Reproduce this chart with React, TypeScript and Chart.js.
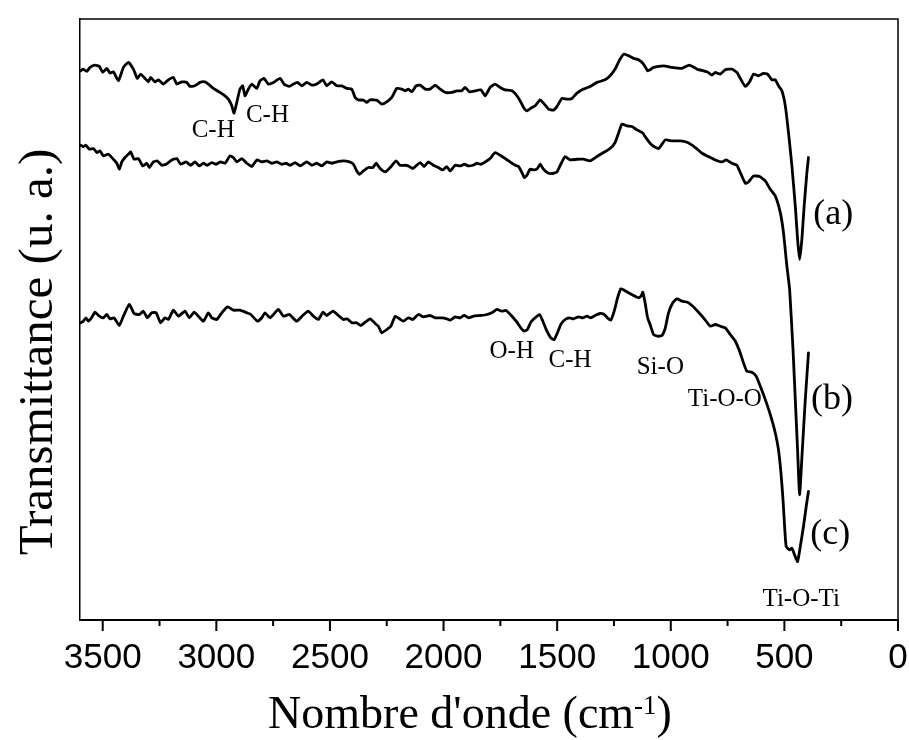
import React, { useEffect, useRef } from "react";
import { Chart, registerables } from "chart.js";

Chart.register(...registerables);

// Wavenumbers (cm-1) and transmittance (arbitrary units) for the three spectra
const waveA = [
  3597, 3587, 3570, 3556, 3534, 3515, 3500, 3482, 3468, 3453,
  3431, 3409, 3387, 3365, 3348, 3333, 3314, 3299, 3289, 3270,
  3255, 3233, 3211, 3189, 3174, 3152, 3130, 3116, 3094, 3072,
  3050, 3035, 3013, 2984, 2962, 2947, 2932, 2922, 2910, 2896,
  2884, 2874, 2859, 2844, 2822, 2808, 2790, 2771, 2749, 2719,
  2702, 2679, 2661, 2643, 2624, 2602, 2580, 2558, 2531, 2514,
  2492, 2470, 2448, 2426, 2404, 2389, 2375, 2353, 2338, 2323,
  2294, 2272, 2250, 2228, 2206, 2184, 2169, 2155, 2140, 2121,
  2103, 2081, 2059, 2037, 2015, 1993, 1964, 1942, 1920, 1905,
  1886, 1861, 1836, 1817, 1795, 1773, 1751, 1729, 1699, 1677,
  1663, 1648, 1633, 1611, 1597, 1575, 1560, 1538, 1516, 1499,
  1479, 1457, 1435, 1413, 1384, 1355, 1325, 1289, 1267, 1245,
  1223, 1205, 1186, 1164, 1142, 1120, 1102, 1091, 1076, 1032,
  995, 951, 918, 885, 841, 819, 804, 782, 760, 731,
  709, 694, 672, 653, 636, 614, 592, 574, 555, 540,
  526, 511, 496, 482, 467, 452, 442, 433, 423, 413,
  401, 394,
];
const transA = [
  54.83, 55.0, 54.77, 55.17, 55.4, 55.27, 54.67, 55.07, 54.6, 54.73,
  53.83, 55.17, 55.67, 55.0, 54.07, 54.5, 54.07, 53.73, 54.17, 53.73,
  53.93, 53.5, 53.93, 54.17, 53.5, 53.73, 53.67, 53.27, 53.33, 53.67,
  53.73, 53.5, 53.07, 52.67, 52.33, 52.0, 51.33, 50.6, 51.67, 53.0,
  53.33, 52.33, 53.0, 53.5, 53.07, 53.83, 54.07, 53.5, 53.67, 54.07,
  53.5, 53.27, 53.5, 53.67, 53.33, 53.67, 53.4, 53.5, 53.93, 53.33,
  53.73, 53.33, 53.33, 53.07, 53.0, 52.17, 51.93, 51.9, 51.67, 51.93,
  51.9, 51.5, 51.73, 52.17, 53.07, 53.0, 52.83, 53.0, 52.73, 53.33,
  53.4, 53.0, 53.0, 53.4, 53.0, 52.67, 52.67, 52.83, 52.83, 53.17,
  52.73, 52.83, 52.93, 52.33, 53.17, 53.5, 53.17, 52.93, 52.83, 52.33,
  51.83, 51.17, 50.83, 51.17, 51.33, 51.93, 51.6, 51.0, 50.9, 51.33,
  52.07, 52.0, 52.07, 52.6, 53.0, 53.27, 53.67, 53.93, 54.33, 55.0,
  56.0, 56.5, 56.33, 56.07, 55.93, 55.5, 54.83, 54.93, 55.17, 55.33,
  55.17, 55.07, 55.4, 55.0, 54.73, 54.4, 54.67, 54.5, 54.93, 55.0,
  54.67, 54.07, 53.27, 53.73, 54.5, 54.33, 54.57, 54.5, 53.93, 53.93,
  53.33, 52.83, 51.33, 48.67, 45.33, 41.33, 38.0, 36.0, 38.0, 41.33,
  44.67, 46.17,
];

const waveB = [
  3597, 3585, 3574, 3559, 3541, 3526, 3512, 3497, 3475, 3453,
  3438, 3427, 3416, 3402, 3387, 3377, 3362, 3343, 3324, 3306,
  3295, 3277, 3260, 3240, 3221, 3196, 3174, 3157, 3133, 3113,
  3094, 3075, 3057, 3040, 3020, 3001, 2981, 2962, 2940, 2925,
  2910, 2888, 2866, 2844, 2822, 2800, 2778, 2756, 2734, 2712,
  2693, 2675, 2653, 2631, 2602, 2580, 2558, 2536, 2514, 2492,
  2470, 2441, 2414, 2397, 2382, 2370, 2353, 2331, 2311, 2297,
  2279, 2257, 2235, 2209, 2191, 2169, 2155, 2135, 2118, 2103,
  2086, 2067, 2045, 2023, 2003, 1986, 1971, 1949, 1927, 1909,
  1890, 1871, 1853, 1836, 1817, 1795, 1773, 1751, 1729, 1707,
  1685, 1670, 1655, 1645, 1633, 1619, 1601, 1587, 1575, 1560,
  1538, 1516, 1501, 1484, 1465, 1443, 1413, 1384, 1355, 1325,
  1296, 1267, 1245, 1230, 1215, 1193, 1171, 1149, 1123, 1105,
  1083, 1054, 1024, 995, 958, 926, 892, 863, 834, 804,
  775, 756, 731, 709, 694, 672, 658, 636, 609, 584,
  562, 540, 518, 504, 489, 477, 462, 452, 442, 433,
  421, 408, 394,
];
const transB = [
  47.4, 47.27, 47.4, 47.0, 47.07, 46.67, 46.83, 46.33, 46.5, 46.0,
  45.6, 45.0, 45.73, 46.17, 46.5, 46.73, 46.0, 46.07, 45.33, 45.6,
  45.17, 45.73, 45.83, 45.4, 45.5, 45.93, 46.07, 45.5, 45.73, 45.4,
  45.73, 45.33, 45.6, 45.4, 45.67, 45.5, 45.73, 45.6, 46.33, 46.17,
  45.73, 46.07, 45.6, 45.27, 45.93, 45.73, 45.83, 45.6, 45.73, 45.5,
  45.6, 45.4, 45.67, 45.33, 45.73, 45.4, 45.6, 45.33, 45.73, 45.6,
  45.73, 45.83, 45.73, 45.5, 44.83, 44.5, 44.83, 45.17, 45.17, 45.6,
  45.07, 44.73, 45.17, 45.83, 45.4, 45.4, 45.33, 45.07, 45.4, 45.67,
  45.27, 45.73, 45.4, 45.17, 44.93, 45.27, 44.83, 45.4, 45.33, 45.5,
  45.33, 45.4, 45.6, 45.5, 45.73, 46.07, 46.67, 46.4, 46.07, 45.73,
  45.4, 45.27, 44.67, 44.17, 44.4, 45.0, 44.93, 45.07, 45.5, 45.0,
  44.6, 44.6, 44.73, 45.5, 46.27, 45.93, 46.0, 46.0, 45.83, 46.27,
  46.67, 47.07, 47.67, 48.6, 49.5, 49.33, 49.27, 48.93, 48.6, 48.0,
  47.4, 47.07, 47.93, 47.83, 47.83, 47.67, 47.17, 46.6, 46.27, 45.93,
  45.73, 45.93, 45.6, 45.4, 44.67, 43.6, 43.73, 44.33, 44.27, 43.83,
  43.0, 42.33, 40.67, 38.67, 35.33, 33.0, 27.0, 22.0, 17.0, 12.5,
  17.0, 22.0, 26.67,
];

const waveC = [
  3597, 3585, 3574, 3563, 3549, 3534, 3515, 3497, 3482, 3468,
  3450, 3427, 3409, 3383, 3362, 3339, 3321, 3304, 3284, 3265,
  3245, 3226, 3211, 3189, 3167, 3138, 3119, 3098, 3079, 3057,
  3035, 3020, 2998, 2976, 2951, 2925, 2896, 2866, 2848, 2819,
  2800, 2786, 2763, 2727, 2705, 2679, 2646, 2620, 2595, 2573,
  2551, 2531, 2514, 2487, 2463, 2441, 2424, 2404, 2382, 2364,
  2345, 2323, 2301, 2287, 2272, 2250, 2232, 2213, 2194, 2177,
  2155, 2135, 2111, 2089, 2059, 2037, 2008, 1986, 1971, 1949,
  1927, 1909, 1890, 1868, 1839, 1809, 1783, 1765, 1743, 1725,
  1699, 1677, 1660, 1645, 1631, 1616, 1597, 1578, 1563, 1545,
  1528, 1513, 1499, 1484, 1465, 1446, 1428, 1406, 1387, 1369,
  1352, 1333, 1311, 1293, 1279, 1264, 1249, 1234, 1220, 1205,
  1186, 1164, 1142, 1131, 1123, 1113, 1102, 1091, 1076, 1058,
  1039, 1024, 1010, 991, 973, 951, 926, 903, 882, 856,
  826, 804, 782, 760, 738, 716, 697, 680, 665, 643,
  624, 606, 584, 562, 540, 526, 515, 506, 499, 492,
  477, 467, 455, 442, 430, 416, 404, 394,
];
const transC = [
  29.67, 29.83, 30.17, 29.83, 30.17, 30.73, 30.33, 30.17, 30.5, 30.07,
  30.17, 29.4, 30.33, 31.5, 30.6, 30.5, 30.83, 30.17, 30.67, 30.67,
  29.67, 30.17, 30.0, 30.93, 30.33, 30.83, 30.17, 30.73, 30.33, 29.83,
  30.67, 30.17, 30.0, 30.67, 31.27, 30.93, 30.93, 30.67, 30.5, 29.83,
  30.17, 30.67, 30.17, 31.0, 30.33, 30.5, 29.83, 30.4, 30.83, 30.33,
  30.0, 30.73, 30.4, 30.83, 30.4, 30.0, 30.07, 29.67, 29.67, 29.4,
  29.73, 30.07, 29.6, 29.33, 28.67, 29.0, 29.33, 30.33, 30.07, 29.83,
  30.17, 30.0, 30.5, 30.27, 30.4, 30.17, 30.17, 30.07, 29.93, 30.27,
  30.17, 30.4, 30.17, 30.33, 30.4, 30.5, 30.73, 31.0, 30.83, 30.9,
  30.33, 29.73, 29.17, 28.83, 29.0, 29.73, 30.17, 30.5, 29.83, 28.83,
  28.17, 28.0, 28.67, 29.5, 30.0, 30.17, 30.07, 30.27, 30.17, 30.33,
  30.17, 30.4, 30.6, 30.5, 30.17, 29.93, 30.83, 32.17, 33.07, 32.93,
  32.67, 32.4, 32.17, 32.33, 32.73, 31.67, 30.17, 29.5, 28.5, 28.33,
  28.4, 29.17, 30.67, 31.67, 32.07, 31.83, 31.73, 31.33, 30.83, 30.17,
  29.33, 29.5, 29.33, 29.17, 28.5, 27.83, 26.83, 25.67, 24.83, 24.73,
  24.33, 23.33, 22.0, 20.5, 18.67, 17.0, 14.67, 12.0, 9.33, 7.33,
  7.0, 7.17, 6.5, 5.83, 7.33, 9.33, 11.33, 12.83,
];

// Band assignments and sample tags, placed in data coordinates
const bandTexts = ["C-H", "C-H", "O-H", "C-H", "Si-O", "Ti-O-O", "Ti-O-Ti"];
const bandWave = [3014, 2775, 1700, 1443, 1046, 762, 426];
const bandLevel = [48.2, 49.7, 26.2, 25.3, 24.6, 21.4, 1.4];

const sampleTags = ["(a)", "(b)", "(c)"];
const sampleWave = [285, 291, 298];
const sampleLevel = [39.5, 21.1, 7.6];

// Axis ticks
const xTickValues = [0, 500, 1000, 1500, 2000, 2500, 3000, 3500];
const xMinorStep = 250;
const xRange = [0, 3600];
const yRange = [0, 60];

const SERIF = '"Liberation Serif", "Times New Roman", Times, serif';
const SANS = '"Liberation Sans", Arial, Helvetica, sans-serif';

const toPoints = (xs: number[], ys: number[]) => xs.map((x, i) => ({ x, y: ys[i] }));

const decorPlugin = {
  id: "spectrumDecor",
  afterDraw(chart: any) {
    const { ctx, chartArea: a, scales } = chart;
    const xs = scales.x;
    const ys = scales.y;
    ctx.save();

    // top and right sides of the frame
    ctx.strokeStyle = "#000";
    ctx.lineWidth = 1.5;
    ctx.beginPath();
    ctx.moveTo(a.left, a.top);
    ctx.lineTo(a.right, a.top);
    ctx.lineTo(a.right, a.bottom);
    ctx.stroke();

    // outward major and minor tick marks on the x axis
    ctx.lineWidth = 2;
    ctx.beginPath();
    for (const t of xs.ticks) {
      const px = xs.getPixelForValue(t.value);
      ctx.moveTo(px, a.bottom);
      ctx.lineTo(px, a.bottom + 11);
      const mid = t.value + xMinorStep;
      if (mid < xRange[1]) {
        const pm = xs.getPixelForValue(mid);
        ctx.moveTo(pm, a.bottom);
        ctx.lineTo(pm, a.bottom + 6);
      }
    }
    ctx.stroke();

    // band labels
    ctx.fillStyle = "#000";
    ctx.textAlign = "center";
    ctx.textBaseline = "alphabetic";
    ctx.font = `25px ${SERIF}`;
    bandTexts.forEach((t, i) => {
      ctx.fillText(t, xs.getPixelForValue(bandWave[i]), ys.getPixelForValue(bandLevel[i]));
    });
    ctx.font = `36px ${SERIF}`;
    sampleTags.forEach((t, i) => {
      ctx.fillText(t, xs.getPixelForValue(sampleWave[i]), ys.getPixelForValue(sampleLevel[i]));
    });

    // x axis title with superscript
    const main = "Nombre d'onde (cm";
    const sup = "-1";
    const close = ")";
    ctx.textAlign = "left";
    ctx.font = `46px ${SERIF}`;
    const wMain = ctx.measureText(main).width;
    const wClose = ctx.measureText(close).width;
    ctx.font = `27px ${SERIF}`;
    const wSup = ctx.measureText(sup).width;
    const total = wMain + wSup + wClose;
    let x0 = 470 - total / 2;
    const base = 728;
    ctx.font = `46px ${SERIF}`;
    ctx.fillText(main, x0, base);
    x0 += wMain;
    ctx.font = `27px ${SERIF}`;
    ctx.fillText(sup, x0, base - 14);
    x0 += wSup;
    ctx.font = `46px ${SERIF}`;
    ctx.fillText(close, x0, base);

    // y axis title
    ctx.translate(52, 352);
    ctx.rotate(-Math.PI / 2);
    ctx.textAlign = "center";
    ctx.font = `49px ${SERIF}`;
    ctx.fillText("Transmittance (u. a.)", 0, 0);

    ctx.restore();
  },
};

export default function App() {
  const ref = useRef<HTMLCanvasElement>(null);

  useEffect(() => {
    if (!ref.current) return;
    const line = (xs: number[], ys: number[]) => ({
      data: toPoints(xs, ys),
      borderColor: "#000",
      borderWidth: 2.8,
      pointRadius: 0,
      tension: 0.15,
      borderJoinStyle: "round" as const,
      borderCapStyle: "round" as const,
      fill: false,
    });
    const chart = new Chart(ref.current, {
      type: "line",
      data: {
        datasets: [
          { label: "(a)", ...line(waveA, transA) },
          { label: "(b)", ...line(waveB, transB) },
          { label: "(c)", ...line(waveC, transC) },
        ],
      },
      options: {
        responsive: false,
        animation: false,
        devicePixelRatio: 1,
        layout: { padding: { top: 19, right: 11, left: 0, bottom: 0 } },
        plugins: {
          legend: { display: false },
          tooltip: { enabled: false },
        },
        scales: {
          x: {
            type: "linear",
            reverse: true,
            min: xRange[0],
            max: xRange[1],
            afterBuildTicks: (s: any) => {
              s.ticks = xTickValues.map((value) => ({ value }));
            },
            afterFit: (s: any) => {
              s.height = 120;
              s.paddingLeft = 0;
              s.paddingRight = 0;
            },
            grid: { display: false, drawTicks: false },
            border: { display: true, color: "#000", width: 2 },
            ticks: {
              autoSkip: false,
              maxRotation: 0,
              padding: 17,
              color: "#000",
              font: { family: SANS, size: 35 },
              callback: (v: any) => String(v),
            },
          },
          y: {
            type: "linear",
            min: yRange[0],
            max: yRange[1],
            afterFit: (s: any) => {
              s.width = 80;
            },
            grid: { display: false, drawTicks: false },
            border: { display: true, color: "#000", width: 1.5 },
            ticks: { display: false },
          },
        },
      },
      plugins: [decorPlugin],
    });
    return () => chart.destroy();
  }, []);

  return (
    <div style={{ position: "absolute", left: 0, top: 0, width: 909, height: 740, background: "#fff" }}>
      <canvas ref={ref} width={909} height={740} style={{ display: "block" }} />
    </div>
  );
}
